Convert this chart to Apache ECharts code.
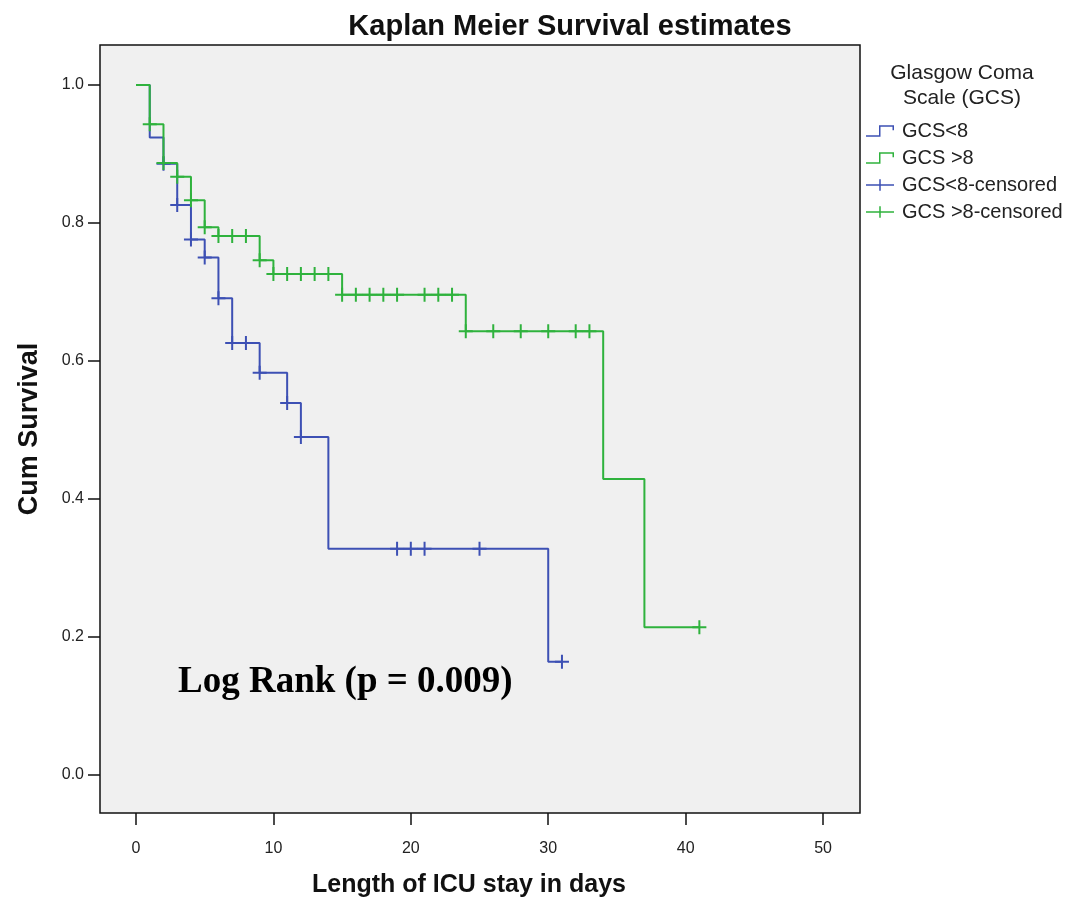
<!DOCTYPE html>
<html><head><meta charset="utf-8">
<script src="https://cdn.jsdelivr.net/npm/echarts@6/dist/echarts.min.js"></script>
<style>html,body{margin:0;padding:0;background:#fff}#c{width:1070px;height:897px}</style>
</head><body><div id="c"></div>
<script>
// ---- data ----
const xTicks = [0, 10, 20, 30, 40, 50];
const yTicks = [0.0, 0.2, 0.4, 0.6, 0.8, 1.0];

// GCS<8 : step curve (time, survival after event)
const lowTimes = [0, 1, 2, 3, 4, 5, 6, 7, 9, 11, 12, 14, 30, 31];
const lowSurv  = [1.0, 0.924, 0.886, 0.826, 0.776, 0.750, 0.691, 0.626, 0.583, 0.539, 0.490, 0.328, 0.164, 0.164];
// GCS >8 : step curve
const highTimes = [0, 1, 2, 3, 4, 5, 6, 9, 10, 15, 24, 34, 37, 41];
const highSurv  = [1.0, 0.943, 0.887, 0.867, 0.833, 0.794, 0.781, 0.746, 0.726, 0.696, 0.643, 0.429, 0.214, 0.214];

// censored marks
const lowCensTimes = [2, 3, 4, 5, 6, 7, 8, 9, 11, 12, 19, 20, 21, 25, 31];
const lowCensSurv  = [0.886, 0.826, 0.776, 0.750, 0.691, 0.626, 0.626, 0.583, 0.539, 0.490, 0.328, 0.328, 0.328, 0.328, 0.164];
const highCensTimes = [1, 2, 3, 4, 5, 6, 7, 8, 9, 10, 11, 12, 13, 14, 15, 16, 17, 18, 19, 21, 22, 23, 24, 26, 28, 30, 32, 33, 41];
const highCensSurv  = [0.943, 0.887, 0.867, 0.833, 0.794, 0.781, 0.781, 0.781, 0.746, 0.726, 0.726, 0.726, 0.726, 0.726,
                       0.696, 0.696, 0.696, 0.696, 0.696, 0.696, 0.696, 0.696, 0.643, 0.643, 0.643, 0.643, 0.643, 0.643, 0.214];

const seriesNames = ['GCS<8', 'GCS >8', 'GCS<8-censored', 'GCS >8-censored'];

// ---- style ----
const BLUE = '#3d50b4';
const GREEN = '#2fb23d';
const FONT = '"Liberation Sans", Arial, sans-serif';
const plusSym = 'path://M0,6 L14,6 L14,8 L0,8 Z M6,0 L8,0 L8,14 L6,14 Z';
const stepIcon = 'path://M0,10 L13,10 L13,0 L28,0 L28,5 L26.5,5 L26.5,1.5 L14.5,1.5 L14.5,11.5 L0,11.5 Z';
const plusIcon = 'path://M0,5 L28,5 L28,6.5 L0,6.5 Z M13.25,0 L14.75,0 L14.75,11.5 L13.25,11.5 Z';

const pairs = (xs, ys) => xs.map((x, i) => [x, ys[i]]);

const chart = echarts.init(document.getElementById('c'), null, {renderer: 'canvas'});
chart.setOption({
  animation: false,
  backgroundColor: '#ffffff',
  textStyle: {fontFamily: FONT},
  grid: {
    left: 100, top: 45, width: 760, height: 768,
    outerBoundsMode: 'none', containLabel: false,
    show: true, backgroundColor: '#f0f0f0', borderColor: '#111', borderWidth: 1.5
  },
  xAxis: {
    type: 'value', min: -2.62, max: 52.69,
    axisLine: {show: false, onZero: false},
    axisTick: {show: true, inside: false, customValues: xTicks, length: 12, lineStyle: {color: '#111', width: 1.5}},
    axisLabel: {customValues: xTicks, fontSize: 16, color: '#222', margin: 28, fontFamily: FONT},
    splitLine: {show: false},
    name: 'Length of ICU stay in days', nameLocation: 'middle', nameGap: 60,
    nameTextStyle: {fontSize: 25, fontWeight: 'bold', color: '#111', fontFamily: FONT, padding: [0, 22, 0, 0]}
  },
  yAxis: {
    type: 'value', min: -0.0551, max: 1.058,
    axisLine: {show: false, onZero: false},
    axisTick: {show: true, inside: false, customValues: yTicks, length: 12, lineStyle: {color: '#111', width: 1.5}},
    axisLabel: {customValues: yTicks, fontSize: 16, color: '#222', margin: 16, fontFamily: FONT,
                formatter: v => Number(v).toFixed(1)},
    splitLine: {show: false},
    name: 'Cum Survival', nameLocation: 'middle', nameGap: 57, nameRotate: 90,
    nameTextStyle: {fontSize: 27, fontWeight: 'bold', color: '#111', fontFamily: FONT}
  },
  legend: {
    orient: 'vertical', left: 866, top: 121, itemWidth: 28, itemHeight: 12, itemGap: 7,
    selectedMode: false, padding: 0,
    itemStyle: {borderWidth: 0},
    textStyle: {fontSize: 20, color: '#222', fontFamily: FONT, padding: [0, 0, 0, 3]},
    data: [
      {name: seriesNames[0], icon: stepIcon, itemStyle: {color: BLUE, borderWidth: 0}},
      {name: seriesNames[1], icon: stepIcon, itemStyle: {color: GREEN, borderWidth: 0}},
      {name: seriesNames[2], icon: plusIcon, itemStyle: {color: BLUE, borderWidth: 0}},
      {name: seriesNames[3], icon: plusIcon, itemStyle: {color: GREEN, borderWidth: 0}}
    ]
  },
  graphic: [
    {type: 'text', x: 570, y: 27, style: {text: 'Kaplan Meier Survival estimates', fill: '#111',
      font: 'bold 29px ' + FONT, align: 'center', verticalAlign: 'middle'}},
    {type: 'text', x: 962, y: 61, style: {text: 'Glasgow Coma\nScale (GCS)', fill: '#222',
      font: '21px ' + FONT, lineHeight: 25, align: 'center', verticalAlign: 'top'}},
    {type: 'text', x: 178, y: 682, style: {text: 'Log Rank (p = 0.009)', fill: '#000',
      font: 'bold 37px "Liberation Serif", "Times New Roman", serif', align: 'left', verticalAlign: 'middle'}}
  ],
  series: [
    {name: seriesNames[0], type: 'line', step: 'end', data: pairs(lowTimes, lowSurv), symbol: 'none',
     lineStyle: {color: BLUE, width: 2}, itemStyle: {color: BLUE}, z: 2},
    {name: seriesNames[1], type: 'line', step: 'end', data: pairs(highTimes, highSurv), symbol: 'none',
     lineStyle: {color: GREEN, width: 2}, itemStyle: {color: GREEN}, z: 3},
    {name: seriesNames[2], type: 'scatter', data: pairs(lowCensTimes, lowCensSurv), symbol: plusSym,
     symbolSize: 14, itemStyle: {color: BLUE, opacity: 1}, z: 4},
    {name: seriesNames[3], type: 'scatter', data: pairs(highCensTimes, highCensSurv), symbol: plusSym,
     symbolSize: 14, itemStyle: {color: GREEN, opacity: 1}, z: 5}
  ]
});
</script>
</body></html>
